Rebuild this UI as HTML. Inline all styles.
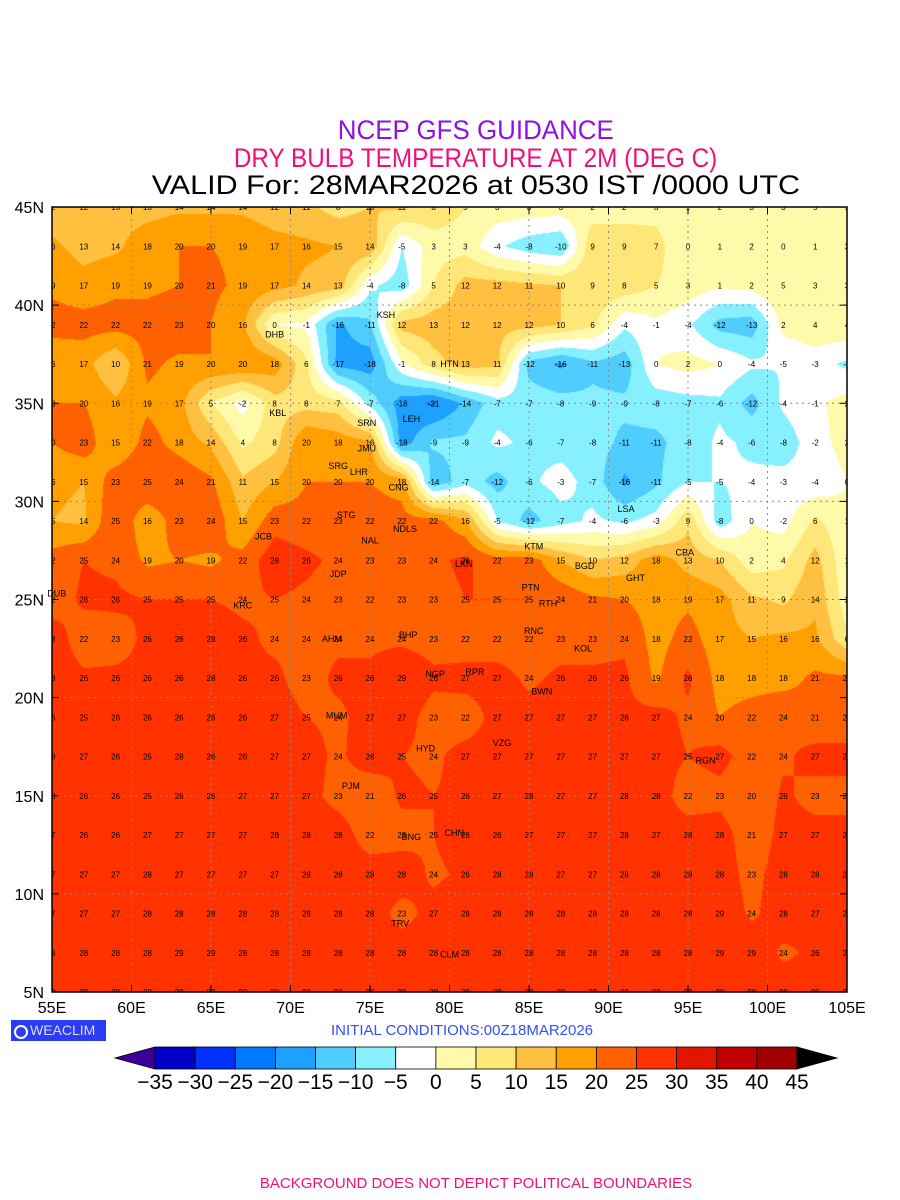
<!DOCTYPE html>
<html><head><meta charset="utf-8">
<style>
html,body{margin:0;padding:0;background:#fff;}
body{width:900px;height:1200px;position:relative;overflow:hidden;font-family:"Liberation Sans",sans-serif;}
.t{position:absolute;left:26px;width:900px;text-align:center;white-space:nowrap;}
.t span{display:inline-block;}
#map{position:absolute;left:52px;top:207px;}
#ov{position:absolute;left:0;top:0;}
</style></head>
<body>
<div class="t" style="top:115px;font-size:27px;color:#9010e0;"><span style="transform:scaleX(0.96)">NCEP GFS GUIDANCE</span></div>
<div class="t" style="top:143px;font-size:27px;color:#f0107a;"><span style="transform:scaleX(0.9)">DRY BULB TEMPERATURE AT 2M (DEG C)</span></div>
<div class="t" style="top:170px;font-size:27px;color:#000;"><span style="transform:scaleX(1.13)">VALID For: 28MAR2026 at 0530 IST /0000 UTC</span></div>
<canvas id="map" width="795" height="785"></canvas>
<svg id="ov" width="900" height="1200"></svg>
<div style="position:absolute;left:11px;top:1020px;width:95px;height:21px;background:#2a3cf5;color:#dde;font-size:14px;line-height:21px;">
<span style="display:inline-block;width:14px;height:14px;border:2px solid #fff;border-radius:50%;margin:1px 2px 0 3px;vertical-align:-4px;box-sizing:border-box;"></span>WEACLIM</div>
<div style="position:absolute;left:331px;top:1022px;font-size:15px;color:#3050ff;">INITIAL CONDITIONS:00Z18MAR2026</div>
<div class="t" style="top:1175px;left:26px;font-size:15px;color:#f0107a;">BACKGROUND DOES NOT DEPICT POLITICAL BOUNDARIES</div>
<script>
const lons=[55,57,59,61,63,65,67,69,71,73,75,77,79,81,83,85,87,89,91,93,95,97,99,101,103,105];
const lats=[45,43,41,39,37,35,33,31,29,27,25,23,21,19,17,15,13,11,9,7,5];
const temps=[
[12,12,13,13,14,14,14,12,11,8,10,11,8,5,3,3,3,2,2,3,1,2,3,3,5,5],
[16,13,14,18,20,20,19,17,16,15,14,-5,3,3,-4,-8,-10,9,9,7,0,1,2,0,1,3],
[19,17,19,19,20,21,19,17,14,13,-4,-8,5,12,12,11,10,9,8,5,3,1,2,5,3,3],
[22,22,22,22,23,20,16,0,-1,-16,-11,12,13,12,12,12,10,6,-4,-1,-4,-12,-13,2,4,4],
[16,17,10,21,19,20,20,18,6,-17,-18,-1,8,13,11,-12,-16,-11,-13,0,2,0,-4,-5,-3,-6],
[20,20,16,19,17,5,-2,8,8,7,-7,-18,-21,-14,-7,-7,-8,-9,-9,-8,-7,-6,-12,-4,-1,2],
[20,23,15,22,18,14,4,8,20,18,16,-18,-9,-9,-4,-6,-7,-8,-11,-11,-8,-4,-6,-8,-2,2],
[16,15,23,25,24,21,11,15,20,20,20,18,-14,-7,-12,-6,-3,-7,-16,-11,-5,-5,-4,-3,-4,0],
[15,14,25,16,23,24,15,23,22,23,22,22,22,16,-5,-12,-7,-4,-6,-3,9,-8,0,-2,6,1],
[22,25,24,19,20,19,22,28,26,24,23,23,24,26,22,23,15,10,12,18,13,10,2,4,12,1],
[22,26,26,25,25,25,24,25,24,23,22,23,23,25,25,25,24,21,20,18,19,17,11,9,14,2],
[28,22,23,26,26,28,26,24,24,24,24,24,23,22,22,22,23,23,24,18,22,17,15,16,16,6],
[28,26,26,26,26,28,26,26,23,26,26,29,26,27,27,24,26,26,26,19,26,18,18,18,21,21],
[26,25,26,26,26,26,26,27,25,24,27,27,23,22,27,27,27,27,26,27,24,20,22,24,21,21],
[28,27,26,25,28,26,26,27,27,24,28,25,24,27,27,27,27,27,27,27,25,27,22,24,27,27],
[28,26,26,25,26,26,27,27,27,23,21,26,25,26,27,28,27,27,28,28,22,23,20,26,23,23],
[27,26,26,27,27,27,27,28,28,28,22,23,25,28,26,27,27,27,28,27,28,28,21,27,27,27],
[27,27,27,28,27,27,27,27,28,28,28,28,24,26,28,28,27,27,28,28,28,28,23,28,28,28],
[27,27,27,28,28,28,28,28,28,28,28,23,27,28,28,28,28,28,28,28,28,29,24,28,27,27],
[28,28,28,28,29,29,28,28,28,28,28,28,28,28,28,28,28,28,28,28,28,29,29,24,26,26],
[28,28,28,28,28,28,28,28,28,28,28,28,28,28,28,28,28,28,28,28,28,28,28,28,28,28]];
const levels=[-35,-30,-25,-20,-15,-10,-5,0,5,10,15,20,25,30,35,40,45];
const levelColors=['#3c0096','#0000c8','#0030ff','#0078ff','#1ea0ff','#50cdff','#87f0ff','#ffffff','#fffaaa','#ffe678','#ffc040','#ffa000','#ff6000','#ff3200','#e11400','#c00000','#a00000','#000000'];
const lonTicks=[55,60,65,70,75,80,85,90,95,100,105];
const latTicks=[5,10,15,20,25,30,35,40,45];
const stations=[['KSH',76,39.5],['DHB',69,38.5],['HTN',80,37],['KBL',69.2,34.5],['SRN',74.8,34],['LEH',77.6,34.2],['JMU',74.8,32.7],['SRG',73,31.8],['LHR',74.3,31.5],['CNG',76.8,30.7],['STG',73.5,29.3],['LSA',91.1,29.6],['JCB',68.3,28.2],['NAL',75,28],['NDLS',77.2,28.6],['CBA',94.8,27.4],['KTM',85.3,27.7],['BGD',88.5,26.7],['LKN',80.9,26.8],['GHT',91.7,26.1],['JDP',73,26.3],['PTN',85.1,25.6],['DUB',55.3,25.3],['KRC',67,24.7],['RTH',86.2,24.8],['BHP',77.4,23.2],['AHM',72.6,23],['RNC',85.3,23.4],['KOL',88.4,22.5],['NGP',79.1,21.2],['RPR',81.6,21.3],['BWN',85.8,20.3],['MUM',72.9,19.1],['HYD',78.5,17.4],['VZG',83.3,17.7],['RGN',96.1,16.8],['PJM',73.8,15.5],['CHN',80.3,13.1],['BNG',77.6,12.9],['TRV',76.9,8.5],['CLM',80,6.9]];
const X0=52,Y0=207,W=795,H=785;
function xOf(lon){return X0+(lon-55)/50*W;}
function yOf(lat){return Y0+(45-lat)/40*H;}
function hex(c){return [parseInt(c.substr(1,2),16),parseInt(c.substr(3,2),16),parseInt(c.substr(5,2),16)];}
const cv=document.getElementById('map');const ctx=cv.getContext('2d');
const img=ctx.createImageData(W,H);const rgbs=levelColors.map(hex);
for(let py=0;py<H;py++){const lat=45-(py+0.5)/H*40;let fj=(45-lat)/2;let j=Math.min(Math.floor(fj),lats.length-2);let ty=fj-j;
 for(let px=0;px<W;px++){const lon=55+(px+0.5)/W*50;let fi=(lon-55)/2;let i=Math.min(Math.floor(fi),lons.length-2);let tx=fi-i;
  const v=(temps[j][i]*(1-tx)+temps[j][i+1]*tx)*(1-ty)+(temps[j+1][i]*(1-tx)+temps[j+1][i+1]*tx)*ty;
  let k=0;while(k<levels.length&&v>=levels[k])k++;const c=rgbs[k];const o=(py*W+px)*4;
  img.data[o]=c[0];img.data[o+1]=c[1];img.data[o+2]=c[2];img.data[o+3]=255;}}
ctx.putImageData(img,0,0);
const NS='http://www.w3.org/2000/svg';const svg=document.getElementById('ov');
function mk(tag,attrs,parent){const e=document.createElementNS(NS,tag);for(const k in attrs)e.setAttribute(k,attrs[k]);(parent||svg).appendChild(e);return e;}
const clip=mk('clipPath',{id:'mc'});mk('rect',{x:X0,y:Y0,width:W,height:H},clip);
const grid=mk('g',{'clip-path':'url(#mc)'});


lonTicks.forEach(l=>{const ln=mk('line',{x1:xOf(l),x2:xOf(l),y1:Y0,y2:Y0+H,stroke:'#8a8a8a','stroke-dasharray':'2,4','stroke-width':1},grid);});
latTicks.forEach(l=>{const ln=mk('line',{x1:X0,x2:X0+W,y1:yOf(l),y2:yOf(l),stroke:'#8a8a8a','stroke-dasharray':'2,4','stroke-width':1},grid);});
const vals=mk('g',{'clip-path':'url(#mc)','font-family':'Liberation Sans, sans-serif','font-size':'8','text-anchor':'middle',fill:'#000'});


temps.forEach((row,j)=>row.forEach((v,i)=>{const t=mk('text',{x:xOf(lons[i])+(i==0?-1:0),y:yOf(lats[j])+3},vals);t.textContent=String(v);}));
stations.forEach(s=>{const t=mk('text',{x:xOf(s[1]),y:yOf(s[2])+3,'font-size':'9','text-anchor':'middle','font-family':'Liberation Sans, sans-serif',fill:'#000'});t.textContent=s[0];});
const fr=mk('rect',{x:X0,y:Y0,width:W,height:H,fill:'none',stroke:'#000','stroke-width':1.5});


lonTicks.forEach(l=>{mk('line',{x1:xOf(l),x2:xOf(l),y1:Y0+H,y2:Y0+H-7,stroke:'#000'});mk('line',{x1:xOf(l),x2:xOf(l),y1:Y0,y2:Y0+7,stroke:'#000'});
 const t=mk('text',{x:xOf(l),y:Y0+H+21,'font-size':'16','text-anchor':'middle','font-family':'Liberation Sans, sans-serif'});t.textContent=l+'E';});
latTicks.forEach(l=>{mk('line',{x1:X0,x2:X0+7,y1:yOf(l),y2:yOf(l),stroke:'#000'});mk('line',{x1:X0+W,x2:X0+W-7,y1:yOf(l),y2:yOf(l),stroke:'#000'});
 const t=mk('text',{x:X0-8,y:yOf(l)+6,'font-size':'16','text-anchor':'end','font-family':'Liberation Sans, sans-serif'});t.textContent=l+'N';});
const cb=mk('g',{});


const bx0=155,bx1=797,by0=1047,by1=1069,bw=(bx1-bx0)/(levels.length-1);
mk('polygon',{points:`115,${(by0+by1)/2} ${bx0},${by0} ${bx0},${by1}`,fill:levelColors[0],stroke:'#000','stroke-width':0.8},cb);
for(let k=0;k<levels.length-1;k++){const r=mk('rect',{x:bx0+k*bw,y:by0,width:bw,height:by1-by0,fill:levelColors[k+1],stroke:'#000','stroke-width':0.8},cb);}
mk('polygon',{points:`837,${(by0+by1)/2} ${bx1},${by0} ${bx1},${by1}`,fill:levelColors[levelColors.length-1],stroke:'#000','stroke-width':0.8},cb);
levels.forEach((l,k)=>{const t=mk('text',{x:bx0+k*bw,y:1089,'font-size':'21','text-anchor':'middle','font-family':'Liberation Sans, sans-serif'},cb);t.textContent=l<0?'\u2212'+(-l):String(l);});
</script>
</body></html>
